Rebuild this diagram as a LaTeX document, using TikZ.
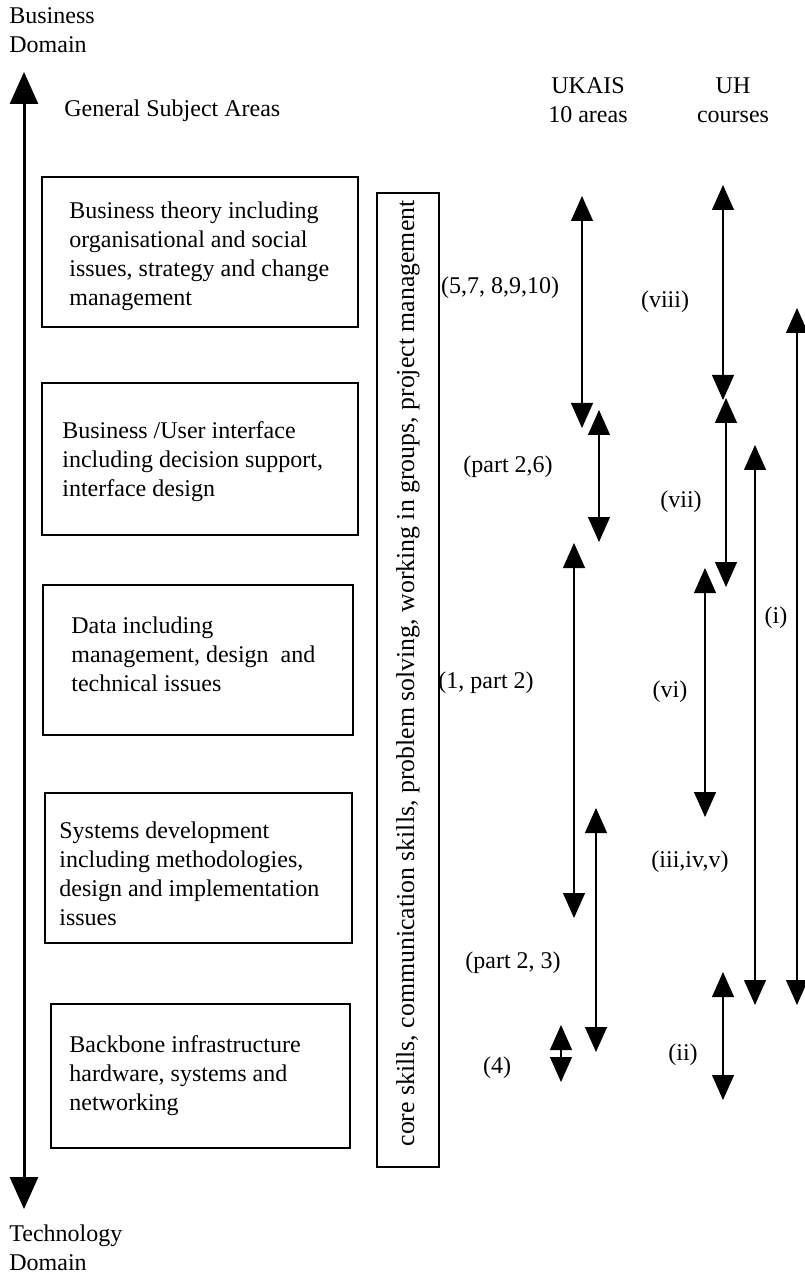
\documentclass[tikz,border=0pt]{standalone}
\usepackage{fontspec}
\setmainfont{Liberation Serif}
\usetikzlibrary{arrows.meta}

\begin{document}
\begin{tikzpicture}[x=0.5pt, y=-0.5pt, font=\fontsize{12}{14.5}\selectfont,
  area/.style={draw, line width=1pt, inner sep=0pt},
  lbl/.style={inner sep=0pt, align=left},
  span/.style={line width=0.6pt, {Triangle[length=12.5pt, width=11pt]}-{Triangle[length=12.5pt, width=11pt]}}]
\useasboundingbox (0,0) rectangle (804,1277);

% domain axis
\node[lbl, anchor=west] (busdom) at (9,30) {Business\\Domain};
\node[lbl, anchor=west] (techdom) at (9,1248) {Technology\\Domain};
\coordinate (axtop) at (24,72);
\coordinate (axbot) at (24,1209);
\draw[line width=1.5pt, {Triangle[length=16pt, width=14pt]}-{Triangle[length=16pt, width=14pt]}] (axtop) -- (axbot);
\node[lbl, anchor=west] (gsa) at (64,111) {General Subject Areas};
\node[lbl, align=center] (ukais) at (588,100) {UKAIS\\10 areas};
\node[lbl, align=center] (uh) at (733,100) {UH\\courses};

% subject area boxes
\node[area, minimum width=158pt, minimum height=75pt] (theory) at (200,252) {};
\node[lbl, anchor=west] (theorytxt) at (69,256) {Business theory including\\organisational and social\\issues, strategy and change\\management};
\node[area, minimum width=158pt, minimum height=76pt] (user) at (200,459) {};
\node[lbl, anchor=west] (usertxt) at (62,462) {Business /User interface\\including decision support,\\interface design};
\node[area, minimum width=155pt, minimum height=75pt] (data) at (198,660) {};
\node[lbl, anchor=west] (datatxt) at (71,654) {Data including\\management, design\ \ and\\technical issues};
\node[area, minimum width=153.5pt, minimum height=75pt] (sysdev) at (198.5,868) {};
\node[lbl, anchor=west] (sysdevtxt) at (59,874) {Systems development\\including methodologies,\\design and implementation\\issues};
\node[area, minimum width=149.5pt, minimum height=72pt] (backbone) at (200.5,1076) {};
\node[lbl, anchor=west] (backbonetxt) at (69,1076) {Backbone infrastructure\\hardware, systems and\\networking};

\node[area, rotate=90, minimum width=487pt, minimum height=31pt, font=\fontsize{12.9}{15}\selectfont] (core) at (408,680) {};
\node[lbl, rotate=90, font=\fontsize{12.9}{15}\selectfont] (coretxt) at (408,673.5) {core skills, communication skills, problem solving, working in groups, project management};

% UKAIS areas
\coordinate (a1t) at (582,196); \coordinate (a1b) at (582,428);
\coordinate (a2t) at (599,410); \coordinate (a2b) at (599,542);
\coordinate (a3t) at (574,543); \coordinate (a3b) at (574,918);
\coordinate (a4t) at (596,808); \coordinate (a4b) at (596,1052);
\coordinate (a5t) at (561,1025); \coordinate (a5b) at (561,1082);
\draw[span] (a1t) -- (a1b);
\draw[span] (a2t) -- (a2b);
\draw[span] (a3t) -- (a3b);
\draw[span] (a4t) -- (a4b);
\draw[span] (a5t) -- (a5b);
\node[lbl] (l1) at (500,288) {(5,7, 8,9,10)};
\node[lbl] (l2) at (508,467) {(part 2,6)};
\node[lbl] (l3) at (486,683) {(1, part 2)};
\node[lbl] (l4) at (513,963) {(part 2, 3)};
\node[lbl] (l5) at (497,1068) {(4)};

% UH courses
\coordinate (b1t) at (723,185); \coordinate (b1b) at (723,400);
\coordinate (b2t) at (726,398); \coordinate (b2b) at (726,587);
\coordinate (b3t) at (705,568); \coordinate (b3b) at (705,817);
\coordinate (b4t) at (723,972); \coordinate (b4b) at (723,1100);
\coordinate (b5t) at (755,445); \coordinate (b5b) at (755,1005);
\coordinate (b6t) at (797,308); \coordinate (b6b) at (797,1005);
\draw[span] (b1t) -- (b1b);
\draw[span] (b2t) -- (b2b);
\draw[span] (b3t) -- (b3b);
\draw[span] (b4t) -- (b4b);
\draw[span] (b5t) -- (b5b);
\draw[span] (b6t) -- (b6b);
\node[lbl] (c8) at (665,302) {(viii)};
\node[lbl] (c7) at (681,502) {(vii)};
\node[lbl] (c6) at (670,692) {(vi)};
\node[lbl] (c3) at (690,862) {(iii,iv,v)};
\node[lbl] (c2) at (683,1055) {(ii)};
\node[lbl] (c1) at (776,618) {(i)};

\end{tikzpicture}
\end{document}
